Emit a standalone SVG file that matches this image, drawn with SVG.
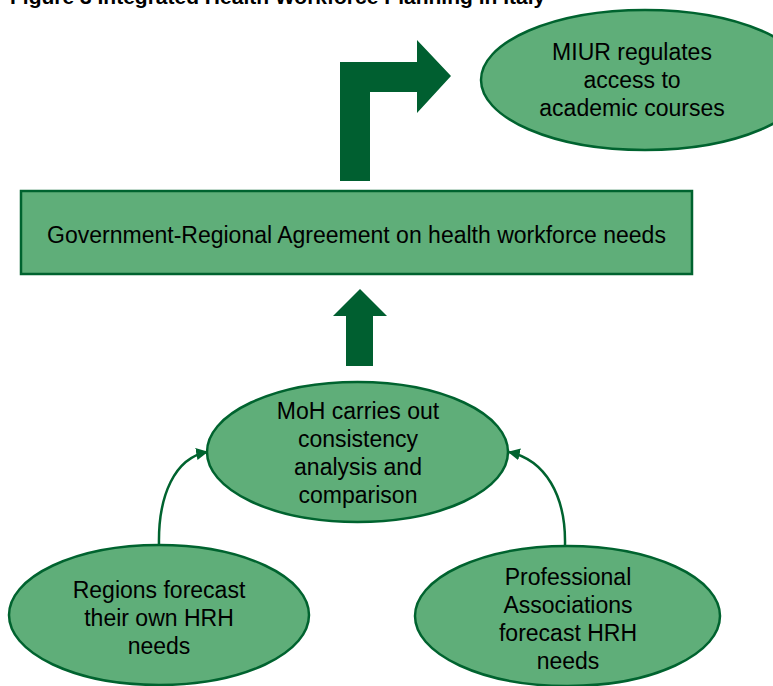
<svg xmlns="http://www.w3.org/2000/svg" width="773" height="686" viewBox="0 0 773 686">
  <style>
    .node { fill: #5fae79; stroke: #00632f; stroke-width: 2.5; }
    .lbl { font-family: "Liberation Sans", Arial, sans-serif; font-size: 23px; fill: #000; text-anchor: middle; }
    .title { font-family: "Liberation Sans", Arial, sans-serif; font-size: 21px; font-weight: bold; fill: #000; }
    .bigarrow { fill: #005f30; }
    .conn { fill: none; stroke: #00632f; stroke-width: 2.5; }
  </style>
  <defs>
    <marker id="ah" markerUnits="userSpaceOnUse" markerWidth="12" markerHeight="12" viewBox="0 0 10 10" refX="9" refY="5" orient="auto">
      <path d="M0,0 L10,5 L0,10 z" fill="#00632f"/>
    </marker>
  </defs>
  <rect width="773" height="686" fill="#ffffff"/>
  <text class="title" x="10" y="4">Figure 3 Integrated Health Workforce Planning in Italy</text>

  <g id="miur">
    <ellipse class="node" cx="645" cy="80" rx="164" ry="70"/>
    <text class="lbl" x="632"><tspan x="632" y="60">MIUR regulates</tspan><tspan x="632" y="88">access to</tspan><tspan x="632" y="116">academic courses</tspan></text>
  </g>

  <g id="bent-arrow">
    <polygon class="bigarrow" points="340,181 340,62 417,62 417,40 451,76 417,113 417,92 370,92 370,181"/>
  </g>

  <g id="agreement">
    <rect class="node" x="21" y="191" width="671" height="83"/>
    <text class="lbl" x="356.5" y="243">Government-Regional Agreement on health workforce needs</text>
  </g>

  <g id="up-arrow">
    <polygon class="bigarrow" points="360,289 387,316 373,316 373,366 346,366 346,316 333,316"/>
  </g>

  <g id="moh">
    <ellipse class="node" cx="357.5" cy="452" rx="150.5" ry="70"/>
    <text class="lbl"><tspan x="358" y="419">MoH carries out</tspan><tspan x="358" y="447">consistency</tspan><tspan x="358" y="475">analysis and</tspan><tspan x="358" y="503">comparison</tspan></text>
  </g>

  <g id="regions">
    <ellipse class="node" cx="159" cy="615" rx="150" ry="70"/>
    <text class="lbl"><tspan x="159" y="598">Regions forecast</tspan><tspan x="159" y="626">their own HRH</tspan><tspan x="159" y="654">needs</tspan></text>
  </g>

  <g id="professional">
    <ellipse class="node" cx="567.5" cy="616" rx="152.5" ry="70"/>
    <text class="lbl"><tspan x="568" y="585">Professional</tspan><tspan x="568" y="613">Associations</tspan><tspan x="568" y="641">forecast HRH</tspan><tspan x="568" y="669">needs</tspan></text>
  </g>

  <g id="connectors">
    <path class="conn" d="M159,545 C158,495 175,458 207,452" marker-end="url(#ah)"/>
    <path class="conn" d="M565,545 C566,495 545,460 509,452" marker-end="url(#ah)"/>
  </g>
</svg>
